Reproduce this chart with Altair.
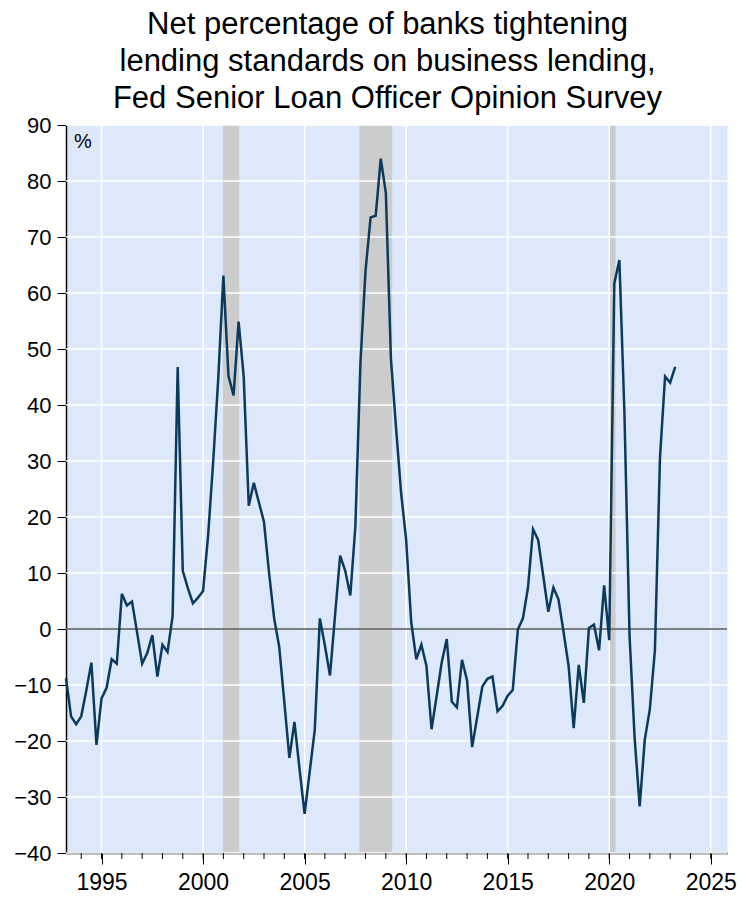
import altair as alt
import pandas as pd

title_lines = [
    "Net percentage of banks tightening",
    "lending standards on business lending,",
    "Fed Senior Loan Officer Opinion Survey",
]

# Quarterly survey readings, starting 1993 Q2
first_quarter = 1993.25
net_tightening = [
    -8.8, -15.6, -17.0,
    -15.6, -11.0, -6.0, -20.7,
    -12.4, -10.5, -5.4, -6.2,
    6.3, 4.2, 4.9, -0.6,
    -6.2, -4.3, -1.1, -8.5,
    -2.8, -4.1, 2.3, 46.8,
    10.4, 7.3, 4.6, 5.6,
    6.8, 16.8, 30.0, 44.9,
    63.1, 45.2, 41.7, 54.9,
    45.1, 22.0, 26.1, 22.6,
    19.1, 10.0, 1.9, -3.2,
    -13.0, -23.0, -16.6, -25.0,
    -33.0, -25.5, -18.0, 1.9,
    -3.0, -8.3, 2.5, 13.1,
    10.4, 6.0, 18.3, 47.6,
    64.0, 73.5, 73.8, 84.0,
    77.9, 48.3, 36.0, 24.4,
    15.9, 1.2, -5.4, -2.8,
    -6.6, -17.9, -12.0, -6.0,
    -1.8, -13.0, -14.0, -5.5,
    -9.2, -21.1, -15.7, -10.3,
    -8.9, -8.5, -14.7, -13.7,
    -11.9, -10.9, -0.1, 1.9,
    7.4, 17.8, 15.9, 9.5,
    3.1, 7.4, 5.3, -0.5,
    -6.6, -17.7, -6.4, -13.2,
    0.2, 0.8, -3.8, 7.8,
    -2.0, 61.7, 65.9, 38.5,
    -1.1, -19.4, -31.7, -19.8,
    -14.3, -3.8, 30.6, 45.1,
    44.0, 46.8,
]
dates = [first_quarter + 0.25 * i for i in range(len(net_tightening))]

recession_start = [2000.98, 2007.70, 2020.0]
recession_end = [2001.78, 2009.31, 2020.31]

y_ticks = list(range(-40, 91, 10))
x_major = list(range(1995, 2026, 5))
x_minor = list(range(1994, 2026))

W, H = 661, 728
FONT = "Liberation Sans"

df = pd.DataFrame({"date": dates, "value": net_tightening})
rec = pd.DataFrame({"start": recession_start, "end": recession_end})
hgrid = pd.DataFrame({"v": y_ticks})
vgrid = pd.DataFrame({"yr": x_major})
minor = pd.DataFrame({"yr": x_minor})

xs = alt.Scale(domain=[1993.25, 2025.8], nice=False, zero=False)
ys = alt.Scale(domain=[-40, 90], nice=False, zero=False)

x_axis = alt.Axis(
    values=x_major, format="d", grid=False, tickSize=11, tickColor="black",
    domainColor="black", domainWidth=1.5, labelFontSize=23, labelFont=FONT,
    labelColor="black", labelPadding=7, labelFlush=False,
)
y_axis = alt.Axis(
    values=y_ticks, grid=False, tickSize=9, tickColor="black",
    domainColor="black", domainWidth=1.5, labelFontSize=22, labelFont=FONT,
    labelColor="black", labelPadding=6,
)


def X(field):
    return alt.X(field, scale=xs, axis=x_axis, title=None)


def Y(field):
    return alt.Y(field, scale=ys, axis=y_axis, title=None)


bands = alt.Chart(rec).mark_rect(color="#cccccc").encode(
    x=X("start:Q"), x2="end:Q", y=alt.value(0), y2=alt.value(H)
)

hg = alt.Chart(hgrid).mark_rule(color="white", strokeWidth=1.5).encode(y=Y("v:Q"))
vg = alt.Chart(vgrid).mark_rule(color="white", strokeWidth=1.5).encode(x=X("yr:Q"))

zero = alt.Chart(pd.DataFrame({"z": [0]})).mark_rule(color="black", strokeWidth=1).encode(
    y=Y("z:Q")
)

line = alt.Chart(df).mark_line(color="#0b3a5c", strokeWidth=2.5).encode(
    x=X("date:Q"), y=Y("value:Q")
)

minor_ticks = alt.Chart(minor).mark_rule(color="black", strokeWidth=1).encode(
    x=X("yr:Q"), y=alt.value(H), y2=alt.value(H + 6)
)

pct = alt.Chart(pd.DataFrame({"t": ["%"]})).mark_text(
    align="left", baseline="top", fontSize=20, font=FONT, color="black"
).encode(text="t:N", x=alt.value(8), y=alt.value(7))

chart = alt.layer(bands, hg, vg, zero, line, minor_ticks, pct).properties(
    width=W,
    height=H,
    title=alt.TitleParams(
        text=title_lines, fontSize=31, font=FONT, fontWeight="normal", color="black",
        anchor="middle", frame="group", dx=-9, lineHeight=37, offset=-1,
    ),
    autosize=alt.AutoSizeParams(type="none"),
    padding={"left": 58, "top": 117, "right": 11, "bottom": 44},
).configure_view(fill="#dde9fb", stroke="transparent")

chart.save("out.html", embed_options={"renderer": "svg", "actions": False})
